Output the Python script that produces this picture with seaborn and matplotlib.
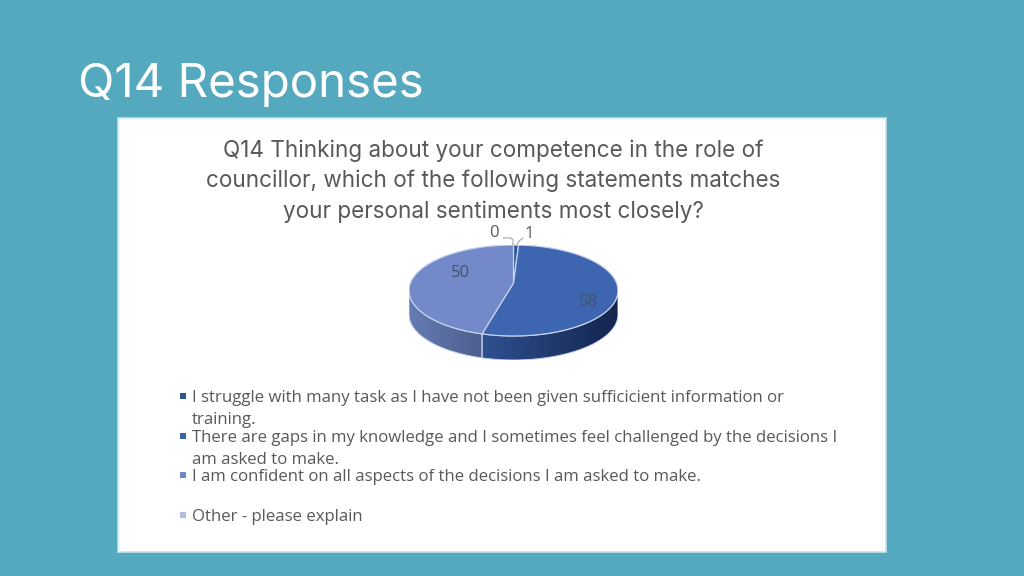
import numpy as np
import matplotlib
matplotlib.use("Agg")
import matplotlib.pyplot as plt
from matplotlib.patches import Polygon, Rectangle
import seaborn as sns

slide_title = "Q14 Responses"
chart_title = [
    "Q14 Thinking about your competence in the role of",
    "councillor, which of the following statements matches",
    "your personal sentiments most closely?",
]
legend_lines = [
    ["I struggle with many task as I have not been given sufficicient information or", "training."],
    ["There are gaps in my knowledge and I sometimes feel challenged by the decisions I", "am asked to make."],
    ["I am confident on all aspects of the decisions I am asked to make."],
    ["Other - please explain"],
]
values = [1, 58, 50, 0]
top_colors = ["#2F5597", "#3E66B0", "#7389C9", "#B4BDDE"]
rim_ramps = [("#2F5597", "#2F5597"), ("#2F5090", "#14254E"), ("#647DB2", "#4D5D8C"), ("#B4BDDE", "#B4BDDE")]
legend_colors = ["#2F5597", "#3A66AE", "#7089C6", "#B4BDDE"]

BG = "#55A9BF"
GREY = "#595959"
EDGE = "#C5D3EC"
TILT = 0.165  # perspective: pushes the pie's centre towards the back edge
sns.set_theme(style="white")

fig = plt.figure(figsize=(10.24, 5.76), dpi=100, facecolor=BG)


def pixel_axes(zorder):
    ax = fig.add_axes([0, 0, 1, 1], zorder=zorder)
    ax.set_xlim(0, 1024)
    ax.set_ylim(576, 0)
    ax.axis("off")
    return ax


def tilt(x, y):
    # projective map of the unit disc onto itself
    d = 1 + TILT * y
    return x * np.sqrt(1 - TILT ** 2) / d, (y + TILT) / d


page = pixel_axes(0)
front = pixel_axes(2)

page.add_patch(Rectangle((118, 118), 768, 434, facecolor="white", edgecolor="#C8E2EA", lw=1.2))
page.text(78, 85, slide_title, color="white", fontsize=34.2, family="Inter", va="center")

for y, line in zip([150.5, 180.5, 211.5], chart_title):
    page.text(493, y, line, color=GREY, fontsize=16.2, family="Inter", ha="center", va="center")

# legend, one block per series
legend_y = [[398, 420], [438, 460], [477], [517]]
for color, lines, ys in zip(legend_colors, legend_lines, legend_y):
    page.add_patch(Rectangle((180, ys[0] - 5), 6, 6, facecolor=color, edgecolor="none"))
    for y, line in zip(ys, lines):
        page.text(192, y, line, color=GREY, fontsize=12.1, family="Open Sans", va="center")

# pie axes: x spans the ellipse, y spans the top face plus the rim
depth = 24 / 45.5
left, right, top, bottom = 409, 618, 245, 360
pie_ax = fig.add_axes([left / 1024, 1 - bottom / 576, (right - left) / 1024, (bottom - top) / 576], zorder=1)
wedges, _ = pie_ax.pie(values, colors=top_colors, startangle=90, counterclock=False, radius=1)

for wedge, color, ramp in zip(wedges, top_colors, rim_ramps):
    if wedge.theta2 - wedge.theta1 == 0:
        continue
    # swap the flat wedge for its tilted outline
    wedge.set_visible(False)
    th = np.radians(np.linspace(wedge.theta1, wedge.theta2, 400))
    xs, ys = tilt(np.cos(th), np.sin(th))
    cx, cy = tilt(0.0, 0.0)
    pie_ax.add_patch(Polygon(np.r_[[[cx, cy]], np.c_[xs, ys]], facecolor=color, edgecolor=EDGE, lw=0.9, zorder=5))

    # rim: gradient image clipped to the visible side band of the wedge
    low = ys <= 0
    if not low.any():
        continue
    xs, ys = xs[low], ys[low]
    band = np.r_[np.c_[xs, ys], np.c_[xs, ys - depth][::-1]]
    img = pie_ax.imshow(
        np.array([sns.blend_palette(ramp, 128)]),
        extent=[xs.min(), xs.max(), -1 - depth, 0],
        aspect="auto",
        zorder=2,
    )
    clip = Polygon(band, transform=pie_ax.transData, facecolor="none", edgecolor=EDGE, lw=0.7, zorder=3)
    pie_ax.add_patch(clip)
    img.set_clip_path(clip)

pie_ax.set_aspect("auto")
pie_ax.set_xlim(-1, 1)
pie_ax.set_ylim(-1 - depth, 1)
pie_ax.axis("off")

# data labels
label_pos = [(529, 234), (589, 301.5), (460, 273), (494, 233)]
for v, (x, y) in zip(values, label_pos):
    front.text(x, y, str(v), color="#44546A" if v > 1 else GREY, fontsize=12, family="Open Sans",
               ha="center", va="center")
front.plot([503, 511, 513, 513], [238, 238, 240, 245], color="#A6A6A6", lw=0.8)
front.plot([523, 519, 517], [238, 241, 245], color="#A6A6A6", lw=0.8)

fig.savefig("out.png", dpi=100, facecolor=BG)
